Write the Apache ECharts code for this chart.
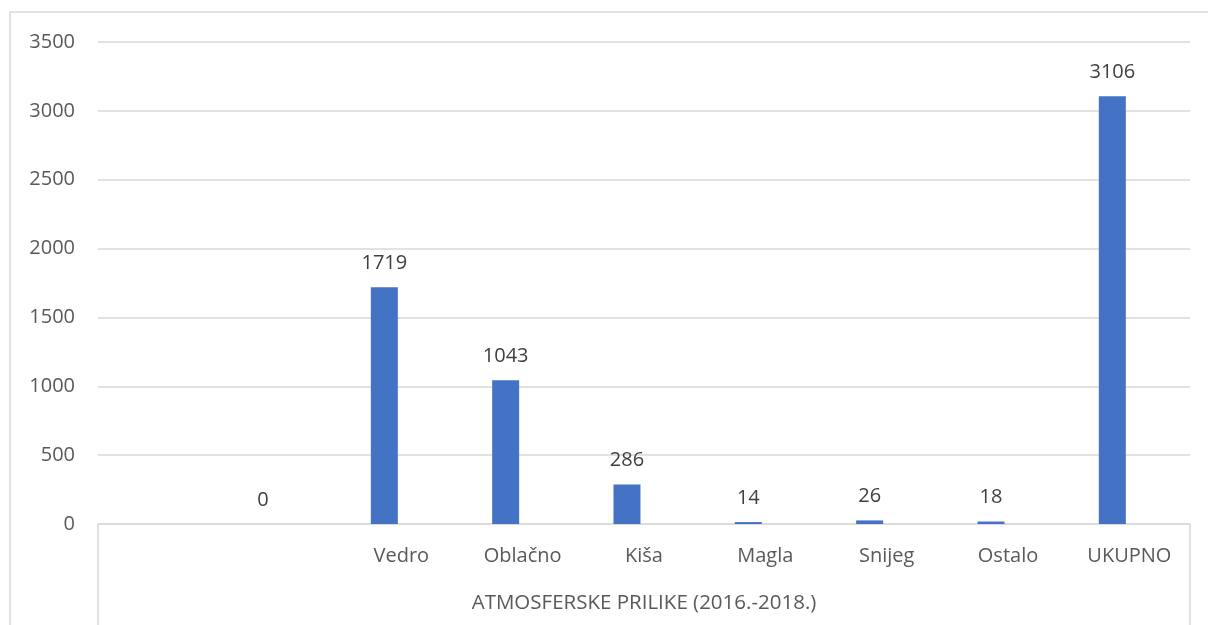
<!DOCTYPE html>
<html>
<head>
<meta charset="utf-8">
<script src="https://cdn.jsdelivr.net/npm/echarts@6/dist/echarts.min.js"></script>
<style>html,body{margin:0;padding:0;background:#fff}#c{width:1208px;height:625px}</style>
</head>
<body>
<div id="c"></div>
<script>
var categories = ['', ' ', 'Vedro', 'Oblačno', 'Kiša', 'Magla', 'Snijeg', 'Ostalo', 'UKUPNO'];
var values = [null, 0, 1719, 1043, 286, 14, 26, 18, 3106];
var emptySeries = [null, null, null, null, null, null, null, null, null];
var yTicks = { min: 0, max: 3500, interval: 500 };
var axisTitle = 'ATMOSFERSKE PRILIKE (2016.-2018.)';

var FONT = '"Open Sans", "Noto Sans", sans-serif';
var FS = 20;
var chart = echarts.init(document.getElementById('c'), null, { renderer: 'canvas' });
var G = { left: 98, right: 18, top: 42, bottom: 101 };
chart.setOption({
  animation: false,
  backgroundColor: '#fff',
  textStyle: { fontFamily: FONT },
  grid: { left: G.left, right: G.right, top: G.top, bottom: G.bottom, containLabel: false },
  xAxis: {
    type: 'category',
    data: categories,
    axisLine: { show: true, lineStyle: { color: '#d9d9d9', width: 1.5 } },
    axisTick: { show: false },
    axisLabel: { color: '#595959', fontSize: FS, margin: 22, fontFamily: FONT, interval: 0 },
    name: axisTitle,
    nameLocation: 'middle',
    nameGap: 69,
    nameTextStyle: { color: '#595959', fontSize: FS + 0.5, fontFamily: FONT }
  },
  yAxis: {
    type: 'value',
    min: yTicks.min, max: yTicks.max, interval: yTicks.interval,
    axisLine: { show: false },
    axisTick: { show: false },
    axisLabel: { color: '#595959', fontSize: FS, margin: 23, fontFamily: FONT, formatter: function (v) { return String(v); } },
    splitLine: { lineStyle: { color: '#d9d9d9', width: 1.5 } }
  },
  series: [
    {
      type: 'bar',
      data: values,
      barWidth: 27,
      barGap: '26%',
      itemStyle: { color: '#4472C4' },
      label: { show: true, position: 'top', distance: 14, color: '#404040', fontSize: FS, fontFamily: FONT }
    },
    {
      type: 'bar',
      data: emptySeries,
      barWidth: 27,
      itemStyle: { color: '#ED7D31' }
    }
  ],
  graphic: [
    { type: 'rect', shape: { x: 10, y: 12, width: 1300, height: 800 }, style: { fill: null, stroke: '#d9d9d9', lineWidth: 1.5 }, silent: true },
    { type: 'line', shape: { x1: G.left, y1: 625 - G.bottom, x2: G.left, y2: 625 }, style: { stroke: '#d9d9d9', lineWidth: 1.5 }, silent: true },
    { type: 'line', shape: { x1: 1208 - G.right, y1: 625 - G.bottom, x2: 1208 - G.right, y2: 625 }, style: { stroke: '#d9d9d9', lineWidth: 1.5 }, silent: true }
  ]
});
</script>
</body>
</html>
